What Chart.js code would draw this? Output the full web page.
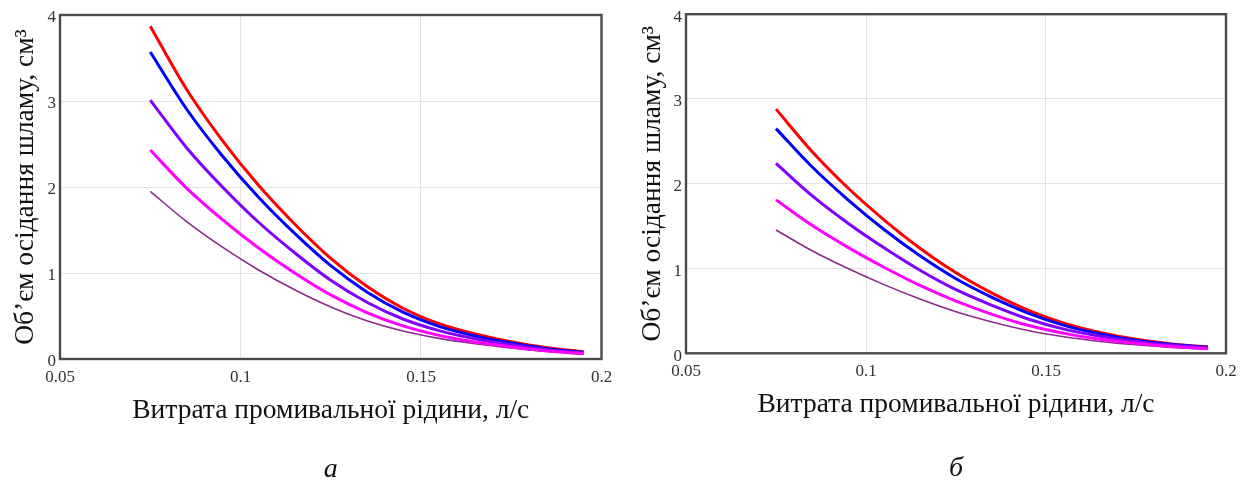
<!DOCTYPE html>
<html>
<head>
<meta charset="utf-8">
<script src="https://cdn.jsdelivr.net/npm/chart.js@4.4.1/dist/chart.umd.min.js"></script>
<style>
  html, body { margin: 0; padding: 0; background: #ffffff; }
  #wrap { position: relative; width: 1256px; height: 487px; overflow: hidden; background: #fff; }
  canvas { position: absolute; top: 0; }
  #c1 { left: 0; }
  #c2 { left: 628px; }
</style>
</head>
<body>
<div id="wrap">
  <canvas id="c1" width="628" height="487"></canvas>
  <canvas id="c2" width="628" height="487"></canvas>
</div>
<script>
// ---- Data ----
const xValues = [0.075, 0.085, 0.095, 0.105, 0.115, 0.125, 0.135, 0.145, 0.155, 0.165, 0.175, 0.185, 0.195];

const leftRed     = [3.87, 3.14, 2.54, 2.02, 1.57, 1.17, 0.845, 0.59, 0.41, 0.29, 0.20, 0.13, 0.085];
const leftBlue    = [3.57, 2.91, 2.36, 1.88, 1.46, 1.085, 0.78, 0.545, 0.38, 0.268, 0.185, 0.12, 0.078];
const leftViolet  = [3.01, 2.46, 2.00, 1.59, 1.235, 0.915, 0.66, 0.465, 0.33, 0.235, 0.165, 0.107, 0.07];
const leftMagenta = [2.43, 1.99, 1.62, 1.29, 1.00, 0.745, 0.54, 0.385, 0.275, 0.198, 0.14, 0.093, 0.062];
const leftPurple  = [1.95, 1.60, 1.30, 1.035, 0.805, 0.605, 0.445, 0.325, 0.24, 0.178, 0.128, 0.087, 0.056];

const rightRed     = [2.88, 2.38, 1.95, 1.575, 1.24, 0.95, 0.71, 0.51, 0.355, 0.245, 0.165, 0.11, 0.077];
const rightBlue    = [2.65, 2.20, 1.81, 1.46, 1.15, 0.88, 0.66, 0.475, 0.33, 0.228, 0.155, 0.104, 0.071];
const rightViolet  = [2.24, 1.86, 1.535, 1.245, 0.98, 0.75, 0.565, 0.405, 0.285, 0.20, 0.138, 0.094, 0.064];
const rightMagenta = [1.81, 1.51, 1.25, 1.015, 0.80, 0.615, 0.46, 0.33, 0.235, 0.165, 0.116, 0.08, 0.055];
const rightPurple  = [1.455, 1.21, 1.00, 0.81, 0.64, 0.49, 0.37, 0.27, 0.195, 0.14, 0.10, 0.07, 0.048];

const xTickValues = [0.05, 0.1, 0.15, 0.2];
const xTickLabels = ['0.05', '0.1', '0.15', '0.2'];
const yTickValues = [0, 1, 2, 3, 4];
const yTickLabels = ['0', '1', '2', '3', '4'];

const xTitle = 'Витрата промивальної рідини, л/с';
const yTitle = 'Об’єм осідання шламу, см³';
const captions = ['а', 'б'];

// ---- Styling ----
const SERIF = '"Liberation Serif", "Times New Roman", serif';
const seriesStyle = [
  { color: '#ff0000', width: 3 },
  { color: '#0000ff', width: 3 },
  { color: '#8000ff', width: 3 },
  { color: '#ff00ff', width: 3 },
  { color: '#8b2a8b', width: 1.6 }
];

const framePlugin = {
  id: 'frame',
  afterDraw(chart) {
    const a = chart.chartArea, ctx = chart.ctx;
    ctx.save();
    ctx.strokeStyle = '#4a4a4a';
    ctx.lineWidth = 2.4;
    ctx.strokeRect(a.left, a.top, a.right - a.left, a.bottom - a.top);
    ctx.restore();
  }
};

function pts(ys) { return xValues.map((x, i) => ({ x: x, y: ys[i] })); }

function makeChart(canvasId, series, geom, caption) {
  const datasets = series.map((ys, i) => ({
    data: pts(ys),
    borderColor: seriesStyle[i].color,
    borderWidth: seriesStyle[i].width,
    pointRadius: 0,
    fill: false,
    cubicInterpolationMode: 'monotone',
    xAxisID: 'x',
    order: [3, 2, 1, 0, 4][i]
  }));
  return new Chart(document.getElementById(canvasId), {
    type: 'line',
    data: { datasets },
    plugins: [framePlugin],
    options: {
      responsive: false,
      animation: false,
      events: [],
      layout: { padding: { top: geom.top, right: geom.right, left: 0, bottom: 0 } },
      plugins: {
        legend: { display: false },
        tooltip: { enabled: false },
        title: { display: false }
      },
      scales: {
        x: {
          type: 'linear',
          position: 'bottom',
          weight: 0,
          min: 0.05, max: 0.2,
          afterBuildTicks(s) { s.ticks = xTickValues.map(v => ({ value: v })); },
          afterFit(s) { s.height = geom.xHeight; },
          ticks: {
            callback: (v, i) => xTickLabels[i],
            color: '#333', padding: 8, maxRotation: 0,
            font: { family: SERIF, size: 17 }
          },
          grid: { color: '#e2e2e2', lineWidth: 1, drawTicks: false },
          border: { display: false },
          title: {
            display: true, text: xTitle, color: '#111',
            font: { family: SERIF, size: 27.5, lineHeight: 1.2 },
            padding: { top: 0, bottom: geom.xTitlePad }
          }
        },
        cap: {
          type: 'linear',
          position: 'bottom',
          weight: 5,
          min: 0.05, max: 0.2,
          afterFit(s) { s.height = geom.capHeight; },
          ticks: { display: false },
          grid: { display: false, drawTicks: false },
          border: { display: false },
          title: {
            display: true, text: caption, color: '#111',
            font: { family: SERIF, size: 28, style: 'italic', lineHeight: 1.2 },
            padding: { top: 0, bottom: geom.capPad }
          }
        },
        y: {
          type: 'linear',
          min: 0, max: 4,
          afterBuildTicks(s) { s.ticks = yTickValues.map(v => ({ value: v })); },
          afterFit(s) { s.width = geom.yWidth; },
          ticks: {
            callback: (v, i) => yTickLabels[i],
            color: '#333', padding: 4, labelOffset: 3,
            font: { family: SERIF, size: 17 }
          },
          grid: { color: '#e2e2e2', lineWidth: 1, drawTicks: false },
          border: { display: false },
          title: {
            display: true, text: yTitle, color: '#111',
            font: { family: SERIF, size: 27.5, lineHeight: 1.2 },
            padding: { top: geom.yTitlePad, bottom: 0 }
          }
        }
      }
    }
  });
}

makeChart('c1', [leftRed, leftBlue, leftViolet, leftMagenta, leftPurple],
  { top: 15, right: 26.5, yWidth: 60, xHeight: 71, xTitlePad: 2.5, capHeight: 57, capPad: 1, yTitlePad: 9.5 }, captions[0]);
makeChart('c2', [rightRed, rightBlue, rightViolet, rightMagenta, rightPurple],
  { top: 9.7, right: 30, yWidth: 58, xHeight: 76.7, xTitlePad: 8.5, capHeight: 57, capPad: 2, yTitlePad: 8 }, captions[1]);
</script>
</body>
</html>
